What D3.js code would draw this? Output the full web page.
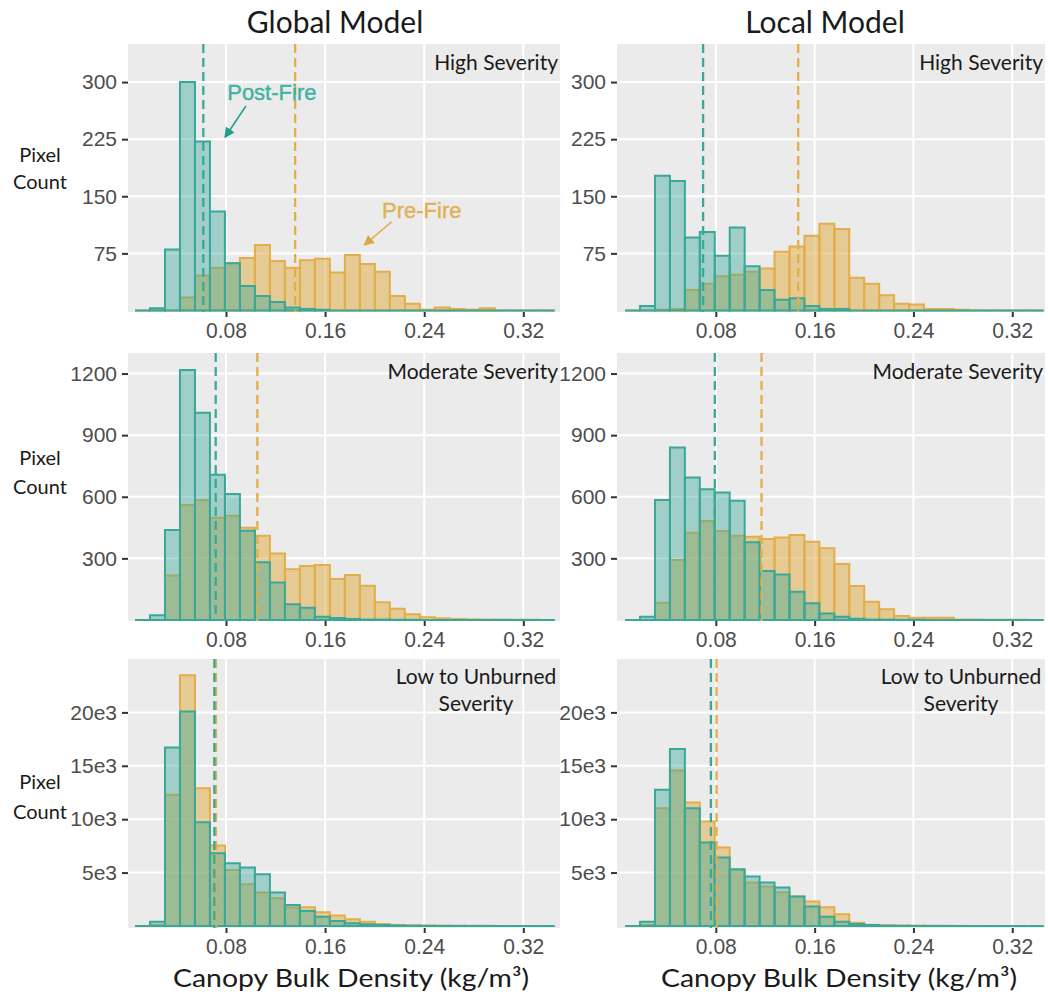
<!DOCTYPE html>
<html>
<head>
<meta charset="utf-8">
<script src="https://cdn.jsdelivr.net/npm/d3@7"></script>
<style>
  html, body { margin: 0; padding: 0; background: #ffffff; }
  svg { display: block; }
</style>
</head>
<body>
<svg id="chart" width="1048" height="994"></svg>
<script>
// ---- data -----------------------------------------------------------------
// Histogram bins of canopy bulk density (kg/m3): 28 bins of equal width.
const binStart = 0.00655;
const binWidth = 0.0121;

const models = ["Global Model", "Local Model"];
const severities = ["High Severity", "Moderate Severity", "Low to Unburned Severity"];

const xTicks = [0.08, 0.16, 0.24, 0.32];
const yTicksHigh = [75, 150, 225, 300];
const yTicksModerate = [300, 600, 900, 1200];
const yTicksLow = [5000, 10000, 15000, 20000];
const yTickLabelsLow = ["5e3", "10e3", "15e3", "20e3"];

// pixel counts per bin, pre-fire and post-fire
const globalHighPre  = [0,0,0,17,46,56,62,69,86,65,56,66,68,50,73,61,51,19,9,1,4,2,1,3,0,0,0,0];
const globalHighPost = [0,3,80,300,222,130,62,32,19,11,4,2,1,0,0,0,0,0,0,0,0,0,0,0,0,0,0,0];
const localHighPre   = [0,0,1,2,27,35,45,47,51,55,77,84,98,114,107,43,35,20,9,8,2,2,1,0,0,0,0,0];
const localHighPost  = [0,6,177,170,96,103,72,109,58,27,14,16,6,2,2,0,0,0,0,0,0,0,0,0,0,0,0,0];

const globalModeratePre  = [0,0,216,560,584,498,508,449,410,324,247,263,268,200,219,167,86,55,28,13,8,5,3,2,2,1,1,0];
const globalModeratePost = [0,23,438,1217,1009,707,613,435,281,182,76,60,16,10,5,2,2,1,1,0,0,0,0,0,0,0,0,0];
const localModeratePre   = [0,0,84,292,425,482,433,410,405,394,402,414,381,349,272,165,89,52,19,11,11,11,2,2,1,1,1,0];
const localModeratePost  = [0,16,584,840,694,636,621,581,378,238,222,138,81,32,16,6,2,2,1,1,0,0,0,0,0,0,0,0];

const globalLowPre  = [0,100,12281,23469,12906,7531,5250,3906,3125,2594,1719,1750,1281,969,625,406,188,94,50,30,20,10,5,5,0,0,0,0];
const globalLowPost = [0,406,16720,20094,9719,6812,5875,5469,4844,3125,1969,1406,875,469,250,156,94,50,30,20,10,10,5,5,0,0,0,0];
const localLowPre   = [0,100,11031,14563,11563,9781,7344,5250,4063,3688,3156,2750,2281,1750,1094,313,94,60,30,20,10,5,5,0,0,0,0,0];
const localLowPost  = [0,406,12750,16563,11031,7813,6406,5313,4625,4063,3594,2750,1813,875,406,188,94,30,20,10,5,5,0,0,0,0,0,0];

// mean canopy bulk density (dashed lines), rows: high, moderate, low
const globalMeanPre  = [0.1358, 0.1053, 0.0719];
const globalMeanPost = [0.0617, 0.0717, 0.0706];
const localMeanPre   = [0.1467, 0.1170, 0.0806];
const localMeanPost  = [0.0697, 0.0792, 0.0760];

// ---- layout ---------------------------------------------------------------
const svg = d3.select("#chart");
const teal = "#3aa898", gold = "#e2ae4a";
const tealText = "#3fb3a3", goldText = "#e2b055";
const labelFont = "Lato, 'Open Sans', sans-serif";
const tickFont = "'Liberation Sans', Arial, sans-serif";

const columns = [
  { left: 128, right: 560, domain: [0.0009, 0.3496], titleX: 335, axisTitleX: 351 },
  { left: 617, right: 1045, domain: [0.0, 0.3465], titleX: 825, axisTitleX: 839 }
];
const rowLayout = [
  { top: 44,  bottom: 312, yDomain: [-2, 350],     ticks: yTicksHigh,     tickLabels: yTicksHigh.map(String),
    pixel: [162, 189] },
  { top: 353, bottom: 621, yDomain: [-5, 1300],    ticks: yTicksModerate, tickLabels: yTicksModerate.map(String),
    pixel: [465, 494] },
  { top: 659, bottom: 928, yDomain: [-190, 25000], ticks: yTicksLow,      tickLabels: yTickLabelsLow,
    pixel: [789, 819] }
];

const series = [
  [[globalHighPre, globalHighPost], [globalModeratePre, globalModeratePost], [globalLowPre, globalLowPost]],
  [[localHighPre, localHighPost],   [localModeratePre, localModeratePost],   [localLowPre, localLowPost]]
];
const means = [
  [globalMeanPre, globalMeanPost],
  [localMeanPre, localMeanPost]
];

// arrow marker definitions
const defs = svg.append("defs");
[["arrowTeal", "#1f9e8e"], ["arrowGold", "#d9a948"]].forEach(([id, c]) => {
  defs.append("marker")
    .attr("id", id).attr("viewBox", "0 0 10 10")
    .attr("refX", 9).attr("refY", 5)
    .attr("markerWidth", 7).attr("markerHeight", 7)
    .attr("orient", "auto-start-reverse")
    .append("path").attr("d", "M0,0 L10,5 L0,10 z").attr("fill", c);
});

const panelScales = [];

columns.forEach((col, ci) => {
  const x = d3.scaleLinear().domain(col.domain).range([col.left, col.right]);

  // column title
  svg.append("text")
    .attr("x", col.titleX).attr("y", 33)
    .attr("text-anchor", "middle")
    .attr("font-family", labelFont).attr("font-size", 30)
    .attr("fill", "#1a1a1a")
    .text(models[ci]);

  rowLayout.forEach((row, ri) => {
    const y = d3.scaleLinear().domain(row.yDomain).range([row.bottom, row.top]);
    panelScales.push({ ci, ri, x, y });
    const g = svg.append("g");

    // panel background
    g.append("rect")
      .attr("x", col.left).attr("y", row.top)
      .attr("width", col.right - col.left).attr("height", row.bottom - row.top)
      .attr("fill", "#ebebeb");

    // grid lines
    g.selectAll(".gy").data(row.ticks).join("line")
      .attr("x1", col.left).attr("x2", col.right)
      .attr("y1", d => y(d)).attr("y2", d => y(d))
      .attr("stroke", "#ffffff").attr("stroke-width", 2);
    g.selectAll(".gx").data(xTicks).join("line")
      .attr("x1", d => x(d)).attr("x2", d => x(d))
      .attr("y1", row.top).attr("y2", row.bottom)
      .attr("stroke", "#ffffff").attr("stroke-width", 2);

    // histogram bars: pre-fire underneath, post-fire on top
    const [pre, post] = series[ci][ri];
    const barPath = i => {
      const x0 = x(binStart + i * binWidth), x1 = x(binStart + (i + 1) * binWidth);
      return v => `M${x0},${y(0)}V${y(v)}H${x1}V${y(0)}`;
    };
    [[pre, gold, 0.55], [post, teal, 0.42]].forEach(([vals, c, op]) => {
      const bars = g.append("g");
      bars.selectAll("path.fill").data(vals).join("path")
        .attr("d", (v, i) => barPath(i)(v) + "Z")
        .attr("fill", c).attr("fill-opacity", op).attr("stroke", "none");
      bars.selectAll("path.edge").data(vals).join("path")
        .attr("d", (v, i) => barPath(i)(v) + "Z")
        .attr("fill", "none").attr("stroke", c).attr("stroke-width", 2)
        .attr("stroke-linejoin", "miter");
    });

    // mean lines
    const [mPre, mPost] = means[ci];
    [[mPre[ri], gold], [mPost[ri], teal]].forEach(([m, c]) => {
      g.append("line")
        .attr("x1", x(m)).attr("x2", x(m))
        .attr("y1", row.top).attr("y2", row.bottom)
        .attr("stroke", c).attr("stroke-width", 2.3)
        .attr("stroke-dasharray", "9,5");
    });

    // y axis
    const yAxis = d3.axisLeft(y).tickValues(row.ticks)
      .tickFormat((d, i) => row.tickLabels[i]).tickSize(6).tickPadding(5);
    const ya = svg.append("g").attr("transform", `translate(${col.left},0)`).call(yAxis);
    ya.select(".domain").remove();
    ya.selectAll("line").attr("stroke", "#333333").attr("stroke-width", 2);
    ya.selectAll("text").attr("font-family", tickFont).attr("font-size", 21).attr("fill", "#4d4d4d");

    // x axis
    const xAxis = d3.axisBottom(x).tickValues(xTicks)
      .tickFormat(d3.format(".2f")).tickSize(5).tickPadding(5);
    const xa = svg.append("g").attr("transform", `translate(0,${row.bottom})`).call(xAxis);
    xa.select(".domain").remove();
    xa.selectAll("line").attr("stroke", "#333333").attr("stroke-width", 2);
    xa.selectAll("text")
      .attr("font-family", "'Liberation Sans Narrow', 'Liberation Sans', sans-serif")
      .attr("font-size", 22).attr("fill", "#4d4d4d")
      .attr("textLength", 41).attr("lengthAdjust", "spacingAndGlyphs");

    // severity label
    const sev = severities[ri];
    if (ri < 2) {
      svg.append("text")
        .attr("x", col.right - 2).attr("y", row.top + 26)
        .attr("text-anchor", "end")
        .attr("font-family", labelFont).attr("font-size", 21).attr("fill", "#1a1a1a")
        .text(sev);
    } else {
      const lines = ["Low to Unburned", "Severity"];
      lines.forEach((t, li) => {
        svg.append("text")
          .attr("x", col.right - 84).attr("y", row.top + 25 + li * 27)
          .attr("text-anchor", "middle")
          .attr("font-family", labelFont).attr("font-size", 21).attr("fill", "#1a1a1a")
          .text(t);
      });
    }

    // y axis title on the left column
    if (ci === 0) {
      ["Pixel", "Count"].forEach((t, li) => {
        svg.append("text")
          .attr("x", 40).attr("y", row.pixel[li])
          .attr("text-anchor", "middle")
          .attr("font-family", labelFont).attr("font-size", 20).attr("fill", "#1a1a1a")
          .text(t);
      });
    }
  });

  // x axis title
  svg.append("text")
    .attr("x", col.axisTitleX).attr("y", 987)
    .attr("text-anchor", "middle")
    .attr("font-family", labelFont).attr("font-size", 25).attr("fill", "#1a1a1a")
    .attr("textLength", 356).attr("lengthAdjust", "spacingAndGlyphs")
    .text("Canopy Bulk Density (kg/m³)");
});

// annotations in the global / high severity panel
const annotations = [
  { label: "Post-Fire", color: tealText, arrow: "#1f9e8e", marker: "arrowTeal",
    tx: 0.117, ty: 287, from: [0.0961, 268.6], to: [0.0792, 227.5] },
  { label: "Pre-Fire", color: goldText, arrow: "#d9a948", marker: "arrowGold",
    tx: 0.238, ty: 132, from: [0.2138, 116.6], to: [0.1916, 86] }
];
const ann = panelScales.find(p => p.ci === 0 && p.ri === 0);
annotations.forEach(a => {
  svg.append("text")
    .attr("x", ann.x(a.tx)).attr("y", ann.y(a.ty) + 8)
    .attr("text-anchor", "middle")
    .attr("font-family", tickFont).attr("font-size", 22).attr("fill", a.color)
    .attr("stroke", a.color).attr("stroke-width", 0.4)
    .text(a.label);
  svg.append("line")
    .attr("x1", ann.x(a.from[0])).attr("y1", ann.y(a.from[1]))
    .attr("x2", ann.x(a.to[0])).attr("y2", ann.y(a.to[1]))
    .attr("stroke", a.arrow).attr("stroke-width", 1.5)
    .attr("marker-end", `url(#${a.marker})`);
});
</script>
</body>
</html>
